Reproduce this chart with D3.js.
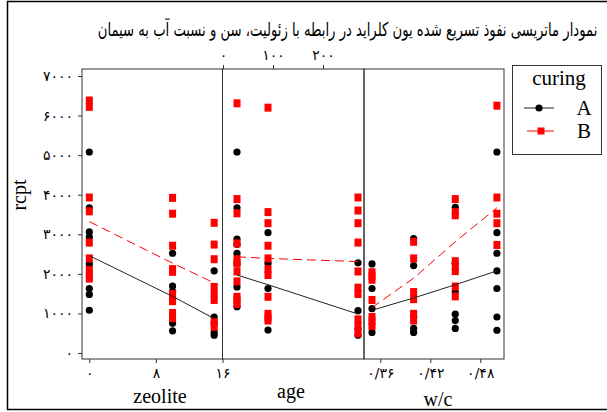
<!DOCTYPE html>
<html>
<head>
<meta charset="utf-8">
<script src="https://cdn.jsdelivr.net/npm/d3@7"></script>
<style>
  body { margin: 0; background: #fff; }
  svg { display: block; }
</style>
</head>
<body>
<svg id="chart" width="607" height="412"></svg>
<script>
// ---- data -------------------------------------------------------------
const titleText = "نمودار ماتریسی نفوذ تسریع شده یون کلراید در رابطه با زئولیت، سن و نسبت آب به سیمان";
const yLabel = "rcpt";
const yTicks = [0, 1000, 2000, 3000, 4000, 5000, 6000, 7000];
const yTickLabels = ["۰", "۱۰۰۰", "۲۰۰۰", "۳۰۰۰", "۴۰۰۰", "۵۰۰۰", "۶۰۰۰", "۷۰۰۰"];
const curingGroups = ["A", "B"];
const legendTitle = "curing";

// zeolite (%)
const zeoliteLevels = [0, 10, 15];
const zeoliteTicks = [0, 8, 16];
const zeoliteTickLabels = ["۰", "۸", "۱۶"];
const zeoliteA = [
  [5080, 3670, 3060, 2930, 2250, 1630, 1480, 1080],
  [2520, 1690, 1560, 750, 560],
  [2075, 910, 770, 520, 450]
];
const zeoliteB = [
  [6380, 6220, 3930, 3580, 2790, 2390, 2100, 1990, 1880],
  [3920, 3520, 2710, 2120, 2050, 1490, 1400, 1310, 1010, 880],
  [3290, 2740, 2370, 1670, 1500, 1340, 780, 660]
];
const zeoliteMeanA = [2460, 1430, 870];
const zeoliteMeanB = [3320, 2270, 1770];

// age (days)
const ageLevels = [28, 90, 270];
const ageTicks = [0, 100, 200];
const ageTickLabels = ["۰", "۱۰۰", "۲۰۰"];
const ageA = [
  [5080, 3670, 2880, 2750, 2520, 2250, 1670, 1170],
  [3040, 2270, 1630, 580],
  [2280, 1070, 600, 450]
];
const ageB = [
  [6310, 3890, 3530, 2770, 2370, 2270, 2060, 1810, 1420, 1330, 1240],
  [6200, 3560, 3280, 2710, 2390, 2120, 1970, 1420, 990, 900, 820],
  [3930, 3600, 3280, 2790, 2060, 1650, 1490, 850, 680, 500]
];
const ageMeanA = [1970, 1725, 985];
const ageMeanB = [2430, 2390, 2310];

// water / cement ratio
const wcLevels = [0.35, 0.40, 0.45, 0.50];
const wcTicks = [0.36, 0.42, 0.48];
const wcTickLabels = ["۰/۳۶", "۰/۴۲", "۰/۴۸"];
const wcA = [
  [2250, 1630, 1120, 520],
  [2890, 2210, 920, 620, 520],
  [3680, 2270, 1540, 980, 820, 620],
  [5080, 3040, 2520, 2075, 1630, 910, 575]
];
const wcB = [
  [2040, 1950, 1850, 1340, 910, 800, 680],
  [2810, 2390, 1540, 1360, 990, 820],
  [3890, 3560, 3480, 2320, 2200, 2070, 1680, 1430],
  [6250, 3930, 3520, 3280, 2730]
];
const wcMeanA = [1080, 1390, 1725, 2075];
const wcMeanB = [1150, 1890, 2810, 3670];

// ---- layout -------------------------------------------------------------
const svg = d3.select("#chart");
const W = 607, H = 412;
const plotTop = 69, plotBottom = 359;
const persianFont = "'DejaVu Sans', sans-serif";
const serifFont = "'Liberation Serif', 'Times New Roman', serif";
const red = "#ff0000";
const tickFontSize = 14;

const y = d3.scaleLinear().domain([-152, 7177]).range([plotBottom, plotTop]);

const panels = [
  { name: "zeolite", levels: zeoliteLevels, A: zeoliteA, B: zeoliteB,
    meanA: zeoliteMeanA, meanB: zeoliteMeanB,
    ticks: zeoliteTicks, tickLabels: zeoliteTickLabels, axis: "bottom",
    x: d3.scaleLinear().domain([-0.88, 16]).range([82, 222.5]),
    titleX: 160, titleY: 403 },
  { name: "age", levels: ageLevels, A: ageA, B: ageB,
    meanA: ageMeanA, meanB: ageMeanB,
    ticks: ageTicks, tickLabels: ageTickLabels, axis: "top",
    x: d3.scaleLinear().domain([-1, 282]).range([222.5, 364]),
    titleX: 291, titleY: 398 },
  { name: "w/c", levels: wcLevels, A: wcA, B: wcB,
    meanA: wcMeanA, meanB: wcMeanB,
    ticks: wcTicks, tickLabels: wcTickLabels, axis: "bottom",
    x: d3.scaleLinear().domain([0.3404, 0.5085]).range([364, 504]),
    titleX: 438, titleY: 406 }
];

// outer frame (right edge lies beyond the canvas)
svg.append("path")
  .attr("d", `M${W + 5},1.5 H7.5 V409.5 H${W + 5}`)
  .attr("fill", "none").attr("stroke", "#000").attr("stroke-width", 1.5);

// title: large glyphs, squeezed horizontally into a 500px box
const titleG = svg.append("g");
const title = titleG.append("text")
  .attr("x", 0).attr("y", 0)
  .attr("text-anchor", "middle")
  .attr("font-family", persianFont)
  .attr("font-size", 19)
  .attr("fill", "#000")
  .text(titleText);
{
  const len = title.node().getComputedTextLength();
  const sx = len > 0 ? 500 / len : 1;
  titleG.attr("transform", `translate(347.5,36) scale(${sx},1)`);
}

// y axis
const yAxis = svg.append("g").attr("transform", "translate(82,0)")
  .call(d3.axisLeft(y).tickValues(yTicks)
    .tickFormat((d, i) => yTickLabels[i]).tickSize(4).tickSizeOuter(0).tickPadding(5));
yAxis.select(".domain").remove();
yAxis.selectAll("line").attr("stroke", "#333");
yAxis.selectAll("text").attr("font-family", persianFont).attr("font-size", tickFontSize).attr("fill", "#000");

svg.append("text")
  .attr("transform", "translate(26,195) rotate(-90)")
  .attr("text-anchor", "middle")
  .attr("font-family", serifFont).attr("font-size", 20).attr("fill", "#000")
  .text(yLabel);

panels.forEach(p => {
  const g = svg.append("g");
  const [x0, x1] = p.x.range();

  // panel axis
  const ax = p.axis === "bottom"
    ? d3.axisBottom(p.x) : d3.axisTop(p.x);
  ax.tickValues(p.ticks).tickFormat((d, i) => p.tickLabels[i])
    .tickSize(4).tickSizeOuter(0).tickPadding(5);
  const axG = g.append("g")
    .attr("transform", `translate(0,${p.axis === "bottom" ? plotBottom : plotTop})`)
    .call(ax);
  axG.select(".domain").remove();
  axG.selectAll("line").attr("stroke", "#333");
  axG.selectAll("text").attr("font-family", persianFont).attr("font-size", tickFontSize).attr("fill", "#000");

  // axis title
  g.append("text")
    .attr("x", p.titleX).attr("y", p.titleY)
    .attr("text-anchor", "middle")
    .attr("font-family", serifFont).attr("font-size", 20).attr("fill", "#000")
    .text(p.name);

  // points, curing A
  p.levels.forEach((lv, i) => {
    g.selectAll(null).data(p.A[i]).join("circle")
      .attr("cx", p.x(lv)).attr("cy", d => y(d)).attr("r", 3.6)
      .attr("fill", "#000");
  });
  // points, curing B
  p.levels.forEach((lv, i) => {
    g.selectAll(null).data(p.B[i]).join("rect")
      .attr("x", p.x(lv) - 3.5).attr("y", d => y(d) - 4)
      .attr("width", 7).attr("height", 8)
      .attr("fill", red);
  });

  // mean lines
  const line = d3.line().x(d => p.x(d[0])).y(d => y(d[1]));
  g.append("path")
    .attr("d", line(p.levels.map((lv, i) => [lv, p.meanA[i]])))
    .attr("fill", "none").attr("stroke", "#222").attr("stroke-width", 1);
  g.append("path")
    .attr("d", line(p.levels.map((lv, i) => [lv, p.meanB[i]])))
    .attr("fill", "none").attr("stroke", red).attr("stroke-width", 1)
    .attr("stroke-dasharray", "9,5");

  // panel frame
  g.append("rect")
    .attr("x", x0).attr("y", plotTop)
    .attr("width", x1 - x0).attr("height", plotBottom - plotTop)
    .attr("fill", "none").attr("stroke", "#333").attr("stroke-width", 1);
});

// legend
const lg = svg.append("g");
lg.append("rect").attr("x", 512.5).attr("y", 65.5).attr("width", 89).attr("height", 89)
  .attr("fill", "#fff").attr("stroke", "#333").attr("stroke-width", 1);
lg.append("text").attr("x", 559).attr("y", 85)
  .attr("text-anchor", "middle")
  .attr("font-family", serifFont).attr("font-size", 21).attr("fill", "#000")
  .text(legendTitle);
curingGroups.forEach((grp, i) => {
  const ly = 108 + i * 23;
  if (i === 0) {
    lg.append("line").attr("x1", 524).attr("x2", 554).attr("y1", ly).attr("y2", ly)
      .attr("stroke", "#222");
    lg.append("circle").attr("cx", 539).attr("cy", ly).attr("r", 3.6).attr("fill", "#000");
  } else {
    lg.append("line").attr("x1", 527).attr("x2", 554).attr("y1", ly).attr("y2", ly)
      .attr("stroke", red);
    lg.append("rect").attr("x", 537.5).attr("y", ly - 3.5).attr("width", 7).attr("height", 7)
      .attr("fill", red);
  }
  lg.append("text").attr("x", 584).attr("y", ly + 6.5)
    .attr("text-anchor", "middle")
    .attr("font-family", serifFont).attr("font-size", 21).attr("fill", "#000")
    .text(grp);
});
</script>
</body>
</html>
